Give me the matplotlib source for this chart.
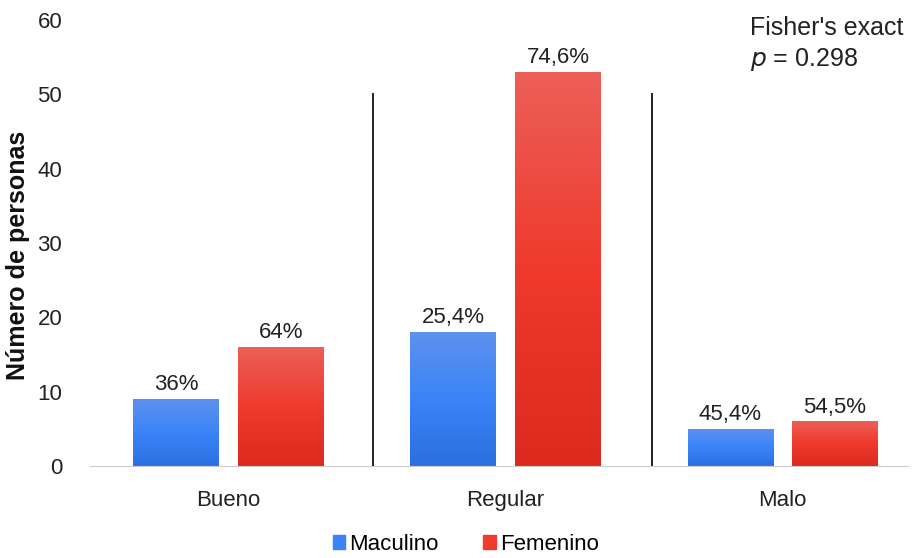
import matplotlib.pyplot as plt
import numpy as np
from matplotlib.colors import LinearSegmentedColormap
from matplotlib.patches import Patch

plt.rcParams['font.family'] = ['Liberation Sans', 'DejaVu Sans']

# datos
categorias = ['Bueno', 'Regular', 'Malo']
masculino = [9, 18, 5]
femenino = [16, 53, 6]
pct_masc = ['36%', '25,4%', '45,4%']
pct_fem = ['64%', '74,6%', '54,5%']
separadores = [0.522, 1.529]

ancho = 0.307
sep = 0.072

azul = LinearSegmentedColormap.from_list('azul', ['#2b6fe0', '#3a84f8', '#5e92ee'])
rojo = LinearSegmentedColormap.from_list('rojo', ['#dc2a1f', '#ef3a2c', '#ec5f58'])

fig = plt.figure(figsize=(9.19, 5.58), dpi=100)
ax = fig.add_axes([90/919, 92/558, 818/919, 446/558])

x = np.arange(len(categorias))
grad = np.linspace(0, 1, 256).reshape(-1, 1)


def barras_gradiente(pos, alturas, cmap, etiquetas):
    bars = ax.bar(pos, alturas, ancho, color='none', edgecolor='none')
    for b, txt in zip(bars, etiquetas):
        x0, w, h = b.get_x(), b.get_width(), b.get_height()
        im = ax.imshow(grad, cmap=cmap, origin='lower', aspect='auto',
                       extent=[x0, x0 + w, 0, h], zorder=2)
        im.set_clip_path(b)
        ax.text(x0 + w/2, h + 0.5, txt, ha='center', va='bottom',
                fontsize=16, color='#222222')
    return bars


barras_gradiente(x - ancho/2 - sep/2, masculino, azul, pct_masc)
barras_gradiente(x + ancho/2 + sep/2, femenino, rojo, pct_fem)

for s in separadores:
    ax.plot([s, s], [0, 50], color='#222222', lw=1.4, zorder=3)

ax.set_xlim(-0.5, 2.453)
ax.set_ylim(0, 60)
ax.set_yticks(range(0, 61, 10))
ax.set_xticks(x)
ax.set_xticklabels(categorias)
ax.tick_params(axis='both', length=0, labelsize=16, colors='#222222')
ax.tick_params(axis='x', pad=17)
ax.tick_params(axis='y', pad=20)
for lado in ['top', 'right', 'left']:
    ax.spines[lado].set_visible(False)
ax.spines['bottom'].set_color('#cccccc')

fig.text(18/919, 1 - 255/558, 'Número de personas', rotation=90, fontsize=18,
         fontweight='bold', ha='center', va='center', color='#111111')

fig.text(750/919, 1 - 16/558, "Fisher's exact\n$p$ = 0.298",
         fontsize=18, va='top', ha='left', color='#222222', linespacing=1.3)

handles = [Patch(color='#3a84f8', label='Maculino'), Patch(color='#ef3a2c', label='Femenino')]
fig.legend(handles=handles, loc='lower center', bbox_to_anchor=(0.507, -0.03), ncol=2,
           frameon=False, fontsize=16, handlelength=0.55, handleheight=0.55,
           handletextpad=0.2, columnspacing=2.0)

fig.savefig('out.png', dpi=100)
